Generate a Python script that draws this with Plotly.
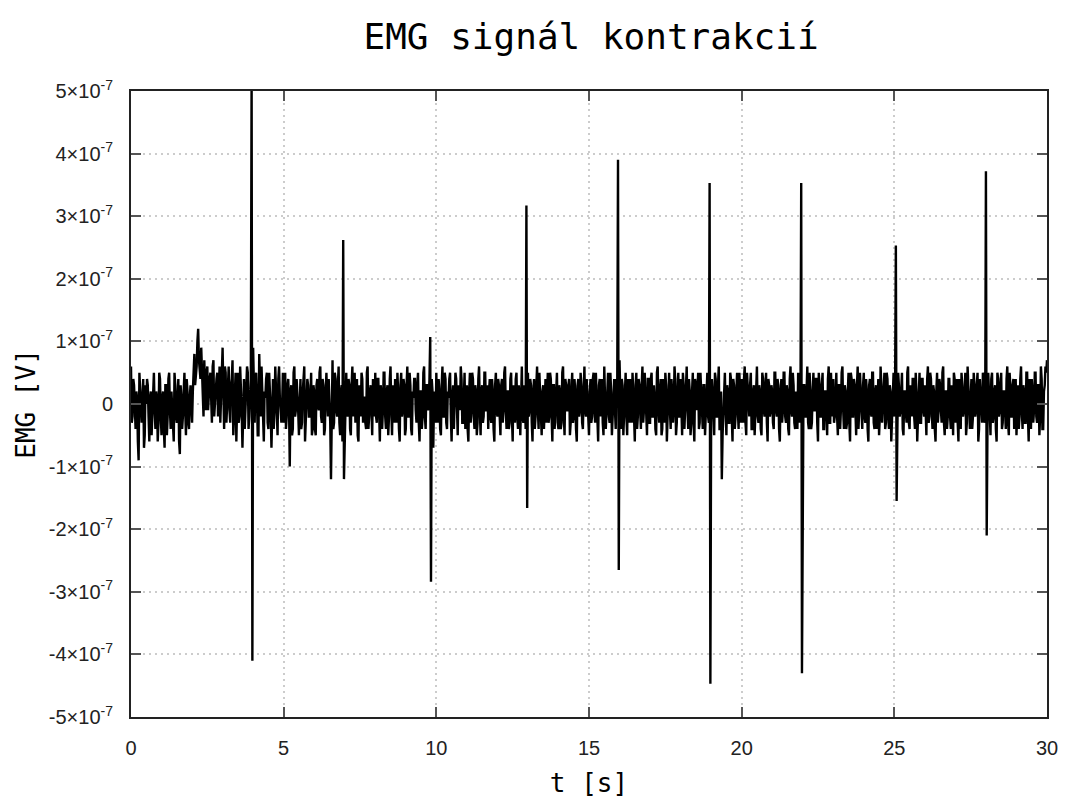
import plotly.graph_objects as go

# Sampling of the recorded signal
dt = 0.05          # s between samples of each sample set

# Baseline EMG noise at t = i*dt, one row per second, in units of 1e-8 V
noise_1e8 = [
    6, -2, 3, -4, 1, -9, 2, -3, 4, -5, 0, 3, -6, 2, -2, 5, -4, 1, -3, 4,
    -5, 2, -7, 3, -2, 5, -4, 0, -6, 3, -3, 4, -8, 1, -2, 5, -5, 2, -4, 3,
    -3, 4, 3, 6, 12, 5, 9, 2, 7, -1, 6, 2, 5, -3, 7, 1, 4, -2, 6, 0,
    9, -4, 5, 0, 6, -3, 4, -5, 2, -6, 5, -2, 3, -7, 4, -1, 6, -4, 2, -5,
    9, -3, 5, -5, 8, -2, 3, -6, 1, 5, -4, 2, -7, 4, -1, 3, -5, 6, -2, 0,
    -3, 5, -2, 4, -6, 3, -4, 6, -1, 2, -5, 4, -3, 5, -6, 1, 3, -2, 5, -4,
    2, -5, 4, -1, 6, -3, 3, -4, 5, -2, 1, -6, 7, -3, 4, -2, 6, -5, 3, 0,
    -4, 5, -2, 3, -5, 6, 0, -3, 4, -6, 2, 5, -3, 1, -4, 6, -2, 3, -5, 2,
    5, -3, 4, -6, 2, -1, 5, -4, 3, -2, 6, -5, 1, 4, -3, 2, -6, 5, -1, 3,
    -4, 6, -2, 3, -5, 1, 4, -3, 5, -6, 2, -2, 6, -4, 3, 0, -5, 4, -7, 2,
    5, -3, 2, -5, 6, -2, 4, -4, 1, 5, -6, 3, -1, 4, -5, 2, 6, -3, 0, -4,
    3, -6, 5, -1, 4, -4, 2, -3, 6, -5, 3, -2, 5, -1, -4, 4, -3, 2, -6, 5,
    -2, 3, -5, 4, -1, 6, -4, 2, -3, 5, -6, 1, 4, -2, 3, -5, 6, -3, 2, -4,
    5, -1, 3, -6, 4, -2, 6, -4, 2, -5, 3, 0, -3, 5, -2, 4, -6, 3, -1, 5,
    -4, 2, -3, 6, -5, 3, -1, 4, -3, 5, -2, 2, -6, 4, -1, 3, -4, 6, -2, 1,
    -5, 4, -2, 5, -3, 2, -6, 4, 1, -3, 6, -4, 3, -2, 5, -5, 2, -1, 4, -3,
    7, -4, 3, -2, 5, -5, 1, 4, -3, 2, -6, 5, -2, 3, -4, 6, -1, 2, -5, 4,
    -3, 5, -2, 1, -5, 6, -3, 4, -4, 2, 5, -6, 3, -1, 4, -3, 6, -5, 2, -2,
    4, -5, 3, -1, 6, -4, 2, -3, 5, -6, 3, 1, -4, 5, -2, 3, -5, 4, -2, 6,
    -3, 2, -5, 4, -2, 6, -4, 3, -1, 5, -5, 2, -3, 4, -6, 3, -2, 5, -4, 1,
    4, -3, 6, -5, 2, -2, 5, -4, 3, -1, 6, -3, 2, -5, 4, -2, 5, -6, 3, -1,
    2, -4, 5, -2, 3, -6, 4, -1, 5, -3, 2, -5, 6, -2, 3, -4, 1, 5, -3, 4,
    -5, 3, -2, 6, -4, 2, -3, 5, -1, 4, -6, 3, -2, 5, -4, 2, -5, 6, -3, 1,
    4, -2, 5, -5, 3, -1, 6, -4, 2, -3, 5, -6, 4, -2, 3, -5, 6, -1, 2, -4,
    5, -3, 2, -6, 4, -2, 5, -4, 3, 1, -5, 6, -3, 2, -4, 5, -2, 3, -6, 4,
    -2, 6, -4, 3, -1, 5, -5, 2, -3, 6, -4, 1, 4, -2, 5, -6, 3, -3, 4, -1,
    3, -5, 6, -2, 4, -4, 2, -6, 5, -1, 3, -3, 6, -5, 2, -2, 4, -4, 1, 5,
    -3, 4, -6, 2, 5, -2, 3, -5, 6, -3, 1, -4, 5, -2, 3, -6, 4, -1, 5, -3,
    6, -4, 2, -5, 5, -2, 3, -6, 4, -1, 5, -3, 2, -4, 6, -5, 3, -2, 4, -1,
    -5, 3, -2, 6, -4, 2, -3, 5, -6, 1, 4, -3, 5, -2, 3, -5, 6, -4, 2, 6,
    7,
]

# Baseline EMG noise at t = (i + 0.5)*dt, one row per second, in units of 1e-8 V
noise_mid_1e8 = [
    -3, 4, -1, 2, -6, 5, -2, 1, -7, 3, 4, -2, 1, -5, 3, -1, 2, -6, 5, -2,
    1, -4, 3, -5, 4, -1, 2, -3, 5, -2, 1, -6, 3, -4, 2, -1, 4, -3, 1, 0,
    2, 8, 5, 10, 7, 4, 6, -2, 3, 5, -1, 4, 2, 6, -2, 3, 5, 1, -3, 4,
    2, 6, -3, 4, -1, 3, 7, -2, 5, 1, -3, 6, -1, 3, -4, 2, 5, -2, 4, 6,
    -2, 4, 1, -5, 3, 6, -1, 2, 4, -3, 5, -1, 2, -4, 6, -2, 4, 1, -3, 5,
    1, -4, 3, 0, 2, -5, 5, -2, 4, -1, 3, -4, 2, 6, -3, 4, -2, 1, -5, 3,
    -4, 3, 0, 5, -2, 4, -5, 2, 1, 4, -3, 2, -4, 5, -1, 3, -3, 2, -6, 4,
    2, -1, 4, -4, 3, -2, 5, 1, -5, 3, -2, 4, 1, -3, 5, -4, 2, -1, 4, -2,
    -2, 4, -1, 3, -4, 5, -2, 2, -5, 4, -1, 3, -3, 2, 5, -4, 3, -2, 4, -5,
    3, -2, 5, -4, 2, 4, -1, 3, -3, 2, -4, 5, -2, 3, -1, 4, -3, 2, 1, -3,
    -1, 4, -4, 3, -2, 5, -3, 2, 4, -2, 1, -4, 5, -2, 3, -1, 4, -3, 5, 2,
    -4, 2, -3, 5, -2, 3, -5, 4, -1, 2, -3, 5, -1, 3, 2, -2, 4, -4, 3, -1,
    4, -2, 3, -3, 5, -1, 2, -4, 4, -2, 3, -3, 5, -4, 1, 4, -2, 3, -4, 5,
    -2, 4, -3, 2, -4, 3, -1, 5, -3, 2, -4, 4, 1, -3, 5, -2, 3, -4, 2, -3,
    3, -4, 5, -2, 4, -1, 3, -5, 2, -3, 4, -4, 3, -2, 5, -3, 2, -1, 4, -4,
    2, -3, 4, -1, 5, -4, 3, -2, 4, -5, 2, -1, 5, -3, 2, -2, 4, -4, 3, 5,
    -3, 4, -5, 3, -2, 4, -3, 2, 5, -2, 3, -4, 4, -1, 3, -3, 5, -2, 4, -3,
    4, -2, 3, -4, 5, -1, 2, -5, 4, -3, 3, -2, 5, -4, 2, -1, 4, -3, 5, -2,
    -2, 5, -4, 3, -1, 4, -5, 2, -3, 4, -1, 5, -3, 2, -4, 3, -1, 5, -3, 2,
    4, -3, 5, -2, 3, -4, 2, -5, 4, -1, 3, -3, 5, -2, 4, -4, 2, -1, 5, -3,
    -2, 4, -3, 5, -1, 3, -4, 2, -5, 4, -2, 3, -4, 5, -1, 3, -3, 4, -2, 3,
    -3, 5, -1, 4, -4, 2, -3, 5, -2, 3, -4, 4, -1, 5, -3, 2, -4, 3, -1, 5,
    3, -2, 4, -3, 5, -4, 2, -1, 4, -3, 5, -2, 3, -4, 2, -1, 4, -3, 5, -2,
    -3, 4, -2, 3, -4, 5, -1, 3, -4, 2, -3, 5, -2, 4, -1, 3, -4, 5, -2, 3,
    -2, 4, -4, 3, -1, 5, -3, 2, -4, 4, -2, 3, -1, 5, -3, 4, -4, 2, -1, 5,
    3, -3, 5, -2, 4, -4, 2, -1, 5, -3, 3, -2, 4, -4, 2, -1, 5, -3, 4, -2,
    -2, 4, -3, 5, -1, 3, -4, 2, -3, 4, -1, 5, -3, 2, -4, 4, -2, 3, -5, 4,
    2, -3, 4, -4, 3, -1, 5, -3, 2, -4, 4, -2, 3, -1, 5, -4, 2, -3, 4, -2,
    -3, 5, -1, 4, -3, 2, -4, 5, -2, 3, -4, 2, -1, 4, -3, 5, -2, 3, -4, 4,
    2, -4, 4, -1, 3, -3, 5, -2, 4, -4, 2, -1, 5, -3, 3, -2, 4, -4, 3, 5,
]

# Contraction spikes: time [s], positive and negative peak [1e-8 V]
spike_t = [3.95, 6.95, 9.8, 12.95, 15.95, 18.95, 21.95, 25.05, 28.0]
spike_hi_1e8 = [53, 26.2, 10.7, 31.7, 39.0, 35.3, 35.3, 25.3, 37.2]
spike_lo_1e8 = [-41, -12, -28.4, -16.6, -26.5, -44.7, -43.0, -15.5, -21.0]

# Isolated negative dips between contractions
dip_t = [5.2, 6.55, 19.35]
dip_1e8 = [-10, -12, -12]

# Place spikes and dips into the two sample sets
main = list(noise_1e8)
mid = list(noise_mid_1e8)
for t0, hi, lo in zip(spike_t, spike_hi_1e8, spike_lo_1e8):
    k = int(round(t0 / dt))
    main[k] = hi
    mid[k] = lo
for t0, v in zip(dip_t, dip_1e8):
    main[int(round(t0 / dt))] = v

# Interleave into one time-ordered record
time_s, emg_v = [], []
for i, v in enumerate(main):
    time_s.append(i * dt)
    emg_v.append(v * 1e-8)
    if i < len(mid):
        time_s.append((i + 0.5) * dt)
        emg_v.append(mid[i] * 1e-8)

y_ticks = [k * 1e-7 for k in range(-5, 6)]
y_labels = [("0" if k == 0 else f"{k}×10<sup>-7</sup>") for k in range(-5, 6)]
x_ticks = [0, 5, 10, 15, 20, 25, 30]

fig = go.Figure()
fig.add_trace(go.Scatter(
    x=time_s, y=emg_v, mode="lines",
    line=dict(color="black", width=2.4),
    showlegend=False, hoverinfo="skip",
))

tick_font = dict(family="Liberation Sans, Arial, sans-serif", size=20, color="#222222")
axis_common = dict(
    showline=True, linecolor="#222222", linewidth=2, mirror="ticks",
    ticks="inside", ticklen=10, tickwidth=2, tickcolor="#555555",
    showgrid=True, gridcolor="#cccccc", griddash="2px,4px", gridwidth=1.5,
    zeroline=False, tickfont=tick_font, automargin=False,
)

fig.update_layout(
    width=1065, height=802,
    margin=dict(l=131, r=18, t=91, b=85),
    paper_bgcolor="white", plot_bgcolor="white",
    title=dict(
        text="EMG signál kontrakcií",
        font=dict(family="DejaVu Sans Mono, monospace", size=36, color="black"),
        x=0.555, xanchor="center", y=0.955, yanchor="middle",
    ),
    xaxis=dict(
        range=[0, 30], tickvals=x_ticks, ticktext=[str(v) for v in x_ticks],
        ticklabelstandoff=12,
        title=dict(text="t [s]", standoff=16,
                   font=dict(family="DejaVu Sans Mono, monospace", size=26, color="black")),
        **axis_common,
    ),
    yaxis=dict(
        range=[-5e-7, 5e-7], tickvals=y_ticks, ticktext=y_labels,
        ticklabelstandoff=12,
        title=dict(text="EMG [V]", standoff=6,
                   font=dict(family="DejaVu Sans Mono, monospace", size=26, color="black")),
        **axis_common,
    ),
)

fig.write_html("out.html")
